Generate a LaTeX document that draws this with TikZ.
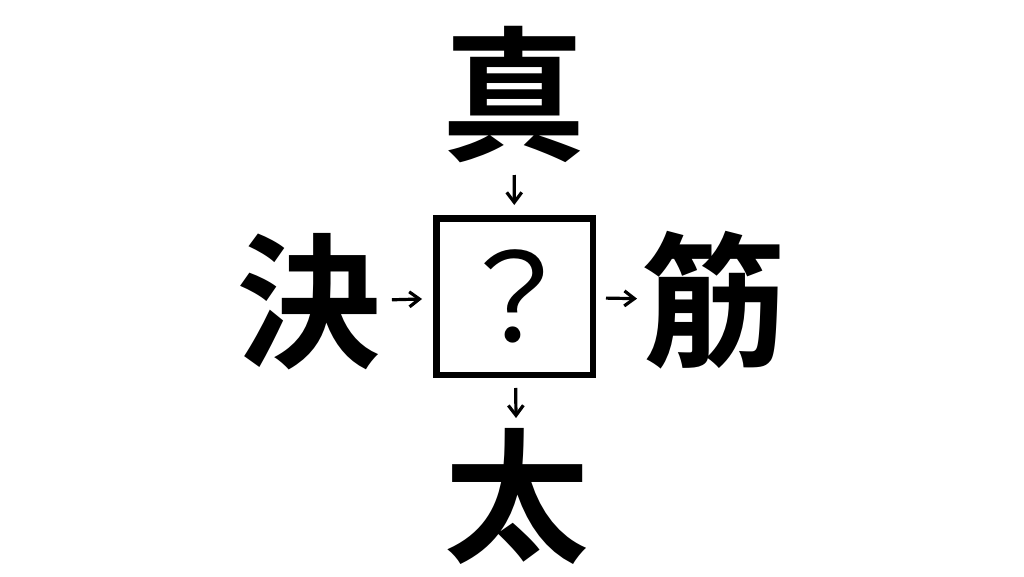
\documentclass[tikz,border=0pt]{standalone}
\usepackage{fontspec}
\newfontfamily\cjk{Noto Sans CJK JP}
\newfontfamily\cjkbold{Noto Sans CJK JP Bold}
\usetikzlibrary{arrows.meta}

\tikzset{
  kanji/.style={font=\cjkbold\fontsize{145}{145}\selectfont, inner sep=0pt},
  qbox/.style={draw, line width=6.5pt, minimum size=156.5pt, inner sep=0pt,
    font=\cjk\fontsize{122}{122}\selectfont},
  arr/.style={line width=3.2pt, -{Straight Barb[length=10pt,width=15pt]}}
}

\begin{document}
\begin{tikzpicture}[x=1pt,y=-1pt]
  % Frame
  \useasboundingbox[fill=white] (0,0) rectangle (1024,576);

  % Centre box
  \node[qbox] (q) at (514.5,296.5) {？};

  % Characters round it
  \node[kanji] (top)    at (514,95)  {真};
  \node[kanji] (left)   at (309,302) {決};
  \node[kanji] (right)  at (714,300) {筋};
  \node[kanji] (bottom) at (517,496) {太};

  % Arrows
  \draw[arr, shorten <=80pt, shorten >=91.5pt] (top.center) -- (q.center);
  \draw[arr, shorten <=83pt, shorten >=92.5pt] (left.center) -- (q.center);
  \draw[arr, shorten <=91.5pt, shorten >=77pt] (q.center) -- (right.center);
  \draw[arr, shorten <=91.5pt, shorten >=78pt] (q.center) -- (bottom.center);
\end{tikzpicture}
\end{document}
